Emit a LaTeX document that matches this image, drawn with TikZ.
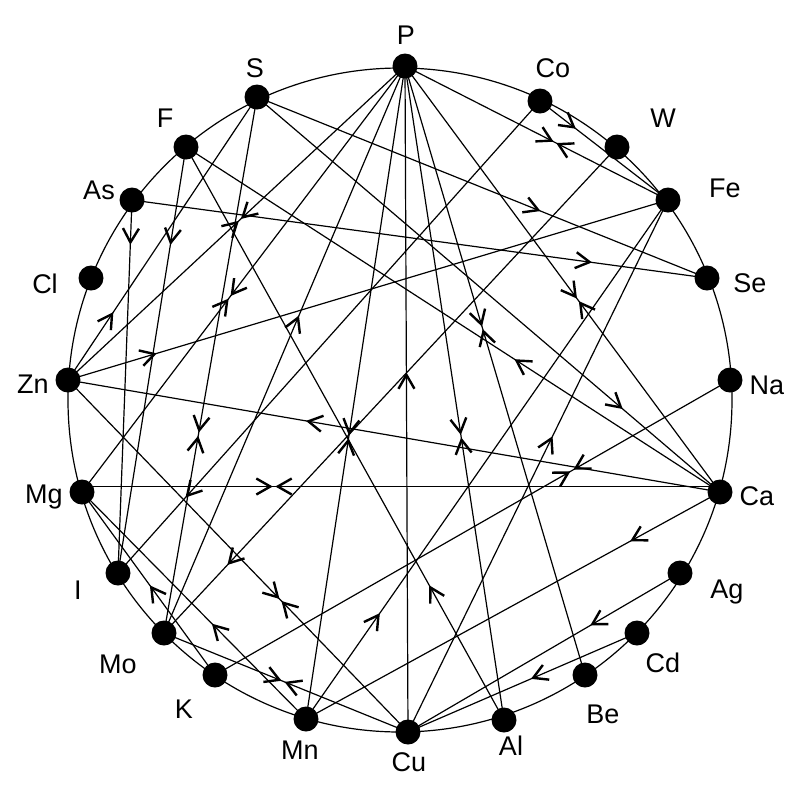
\documentclass[tikz,border=0pt]{standalone}
\usepackage{fontspec}
\setmainfont{Liberation Sans}
\usetikzlibrary{arrows.meta,decorations.markings}
\pgfdeclarelayer{background}
\pgfsetlayers{background,main}
\tikzset{
  dot/.style={circle,fill=black,inner sep=0pt,minimum size=12.5pt},
  lab/.style={font=\fontsize{13.5}{15}\selectfont,inner sep=0pt},
  ln/.style={line width=0.6pt},
  mybarb/.tip={Straight Barb[length=7pt,width=8pt,line width=1.2pt]},
  arr/.style={ln,postaction={decorate,decoration={markings,mark=at position #1 with {\arrow{mybarb}}}}},
  bi/.style 2 args={ln,postaction={decorate,decoration={markings,mark=at position #1 with {\arrow{mybarb}},mark=at position #2 with {\arrowreversed{mybarb}}}}}
}
\begin{document}
\begin{tikzpicture}[x=0.5pt,y=-0.5pt]
\useasboundingbox (0,0) rectangle (800,800);
% vertices
\node[dot] (P)  at (405,66) {};
\node[dot] (Co) at (540,101) {};
\node[dot] (W)  at (617,147) {};
\node[dot] (Fe) at (668,200) {};
\node[dot] (Se) at (707,278) {};
\node[dot] (Na) at (730,380) {};
\node[dot] (Ca) at (720,492) {};
\node[dot] (Ag) at (680,573) {};
\node[dot] (Cd) at (637,633) {};
\node[dot] (Be) at (585,675) {};
\node[dot] (Al) at (504,720) {};
\node[dot] (Cu) at (408,732) {};
\node[dot] (Mn) at (306,719) {};
\node[dot] (K)  at (215,675) {};
\node[dot] (Mo) at (164,633) {};
\node[dot] (I)  at (118,573) {};
\node[dot] (Mg) at (82,492) {};
\node[dot] (Zn) at (68,380) {};
\node[dot] (Cl) at (91,278) {};
\node[dot] (As) at (132,200) {};
\node[dot] (F)  at (186,147) {};
\node[dot] (S)  at (257,97) {};
% labels
\node[lab] (lP)  at (406,35) {P};
\node[lab] (lCo) at (553,68) {Co};
\node[lab] (lW)  at (663,118) {W};
\node[lab] (lFe) at (725,188) {Fe};
\node[lab] (lSe) at (750,283) {Se};
\node[lab] (lNa) at (767,385) {Na};
\node[lab] (lCa) at (757,496) {Ca};
\node[lab] (lAg) at (727,592) {Ag};
\node[lab] (lCd) at (663,663) {Cd};
\node[lab] (lBe) at (603,714) {Be};
\node[lab] (lAl) at (511,746) {Al};
\node[lab] (lCu) at (409,762) {Cu};
\node[lab] (lMn) at (300,750) {Mn};
\node[lab] (lK)  at (184,709) {K};
\node[lab] (lMo) at (118,664) {Mo};
\node[lab] (lI)  at (78,590) {I};
\node[lab] (lMg) at (44,497) {Mg};
\node[lab] (lZn) at (33,384) {Zn};
\node[lab] (lCl) at (45,284) {Cl};
\node[lab] (lAs) at (99,190) {As};
\node[lab] (lF)  at (165,118) {F};
\node[lab] (lS)  at (255,68) {S};
\begin{pgfonlayer}{background}
\fill[white] (0,0) rectangle (800,800);
\draw[ln] (400,400) circle[radius=166pt];
% one-way edges
\draw[arr=0.56]  (Mo.center) -- (P.center);
\draw[arr=0.54]  (Cu.center) -- (P.center);
\draw[arr=0.24]  (Zn.center) -- (S.center);
\draw[arr=0.63]  (S.center) -- (Se.center);
\draw[arr=0.79]  (S.center) -- (Ca.center);
\draw[arr=0.23]  (F.center) -- (I.center);
\draw[arr=0.12]  (As.center) -- (I.center);
\draw[arr=0.80]  (As.center) -- (Se.center);
\draw[arr=0.385] (Ca.center) -- (F.center);
\draw[arr=0.235] (Al.center) -- (F.center);
\draw[arr=0.148] (Zn.center) -- (Fe.center);
\draw[arr=0.635] (Ca.center) -- (Zn.center);
\draw[arr=0.49]  (K.center) -- (Mg.center);
\draw[arr=0.42]  (Mn.center) -- (Mg.center);
\draw[arr=0.84]  (Co.center) -- (I.center);
\draw[arr=0.86]  (W.center) -- (Mo.center);
\draw[arr=0.28]  (Co.center) -- (Fe.center);
\draw[arr=0.204] (Mn.center) -- (Fe.center);
\draw[arr=0.556] (Cu.center) -- (Fe.center);
\draw[arr=0.217] (Ca.center) -- (Mn.center);
\draw[arr=0.33]  (Ag.center) -- (Cu.center);
\draw[arr=0.463] (Cd.center) -- (Cu.center);
% two-way edges
\draw[bi={0.299}{0.303}] ([yshift=2.75pt]Mg.center) -- ([yshift=2.75pt]Ca.center);
\draw[bi={0.487}{0.493}] (P.center) -- (Zn.center);
\draw[bi={0.540}{0.546}] (P.center) -- (Mg.center);
\draw[bi={0.566}{0.570}] (P.center) -- (Mn.center);
\draw[bi={0.564}{0.568}] (P.center) -- (Al.center);
\draw[bi={0.428}{0.432}] (P.center) -- (Be.center);
\draw[bi={0.546}{0.552}] (P.center) -- (Ca.center);
\draw[bi={0.565}{0.575}] (P.center) -- (Fe.center);
\draw[bi={0.626}{0.632}] (S.center) -- (Mo.center);
\draw[bi={0.622}{0.628}] (Zn.center) -- (Cu.center);
\draw[bi={0.482}{0.494}] (Mo.center) -- (Cu.center);
\draw[bi={0.690}{0.696}] (K.center) -- (Na.center);
\end{pgfonlayer}
\end{tikzpicture}
\end{document}
